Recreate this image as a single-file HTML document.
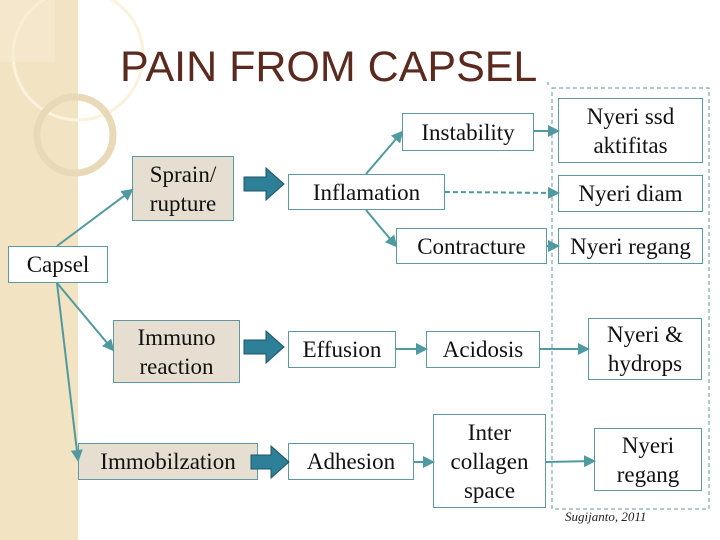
<!DOCTYPE html>
<html><head><meta charset="utf-8"><style>
body{margin:0;width:720px;height:540px;overflow:hidden;background:#fff;position:relative;font-family:"Liberation Serif","DejaVu Serif",serif}
.b{position:absolute;box-sizing:border-box;border:1.5px solid #5b9aa1;background:#fff;display:flex;align-items:center;justify-content:center;text-align:center;font-family:"Liberation Serif","DejaVu Serif",serif;font-size:23px;line-height:29px;color:#111;white-space:nowrap}
.g{background:#e5ded1}
</style></head><body>
<div style="position:absolute;left:0;top:0;width:78px;height:540px;background:#f2e3c2"></div>
<svg width="720" height="540" style="position:absolute;left:0;top:0">
<circle cx="78" cy="55" r="65" fill="none" stroke="#fbf2dc" stroke-width="3"/>
<circle cx="75" cy="135" r="38" fill="none" stroke="#e8dab9" stroke-width="7"/>
<rect x="0" y="0" width="55" height="62" fill="#f6ead0" opacity="0.6"/>
</svg>
<div style="position:absolute;left:120px;top:42px;font-family:'Liberation Sans',sans-serif;font-size:43px;color:#5a2a1f;line-height:50px">PAIN FROM CAPSEL</div>
<div class="b g" style="left:132px;top:156px;width:102px;height:65px">Sprain/<br>rupture</div>
<div class="b" style="left:288px;top:174px;width:157px;height:36px">Inflamation</div>
<div class="b" style="left:402px;top:113px;width:132px;height:38px">Instability</div>
<div class="b" style="left:396px;top:228px;width:151px;height:36px">Contracture</div>
<div class="b" style="left:558px;top:98px;width:145px;height:65px">Nyeri ssd<br>aktifitas</div>
<div class="b" style="left:558px;top:175px;width:145px;height:37px">Nyeri diam</div>
<div class="b" style="left:558px;top:228px;width:145px;height:36px">Nyeri regang</div>
<div class="b" style="left:8px;top:246px;width:100px;height:37px">Capsel</div>
<div class="b g" style="left:113px;top:320px;width:127px;height:63px">Immuno<br>reaction</div>
<div class="b" style="left:288px;top:331px;width:108px;height:37px">Effusion</div>
<div class="b" style="left:426px;top:331px;width:114px;height:37px">Acidosis</div>
<div class="b" style="left:588px;top:318px;width:114px;height:62px">Nyeri &amp;<br>hydrops</div>
<div class="b g" style="left:78px;top:443px;width:180px;height:37px">Immobilzation</div>
<div class="b" style="left:288px;top:443px;width:126px;height:37px">Adhesion</div>
<div class="b" style="left:433px;top:414px;width:113px;height:94px">Inter<br>collagen<br>space</div>
<div class="b" style="left:594px;top:428px;width:108px;height:63px">Nyeri<br>regang</div>
<div style="position:absolute;left:565px;top:509px;font-size:13px;font-style:italic;color:#222">Sugijanto, 2011</div>
<svg width="720" height="540" style="position:absolute;left:0;top:0;z-index:2">
<defs><marker id="a" markerWidth="6" markerHeight="6" refX="5" refY="3" orient="auto"><path d="M0,0 L6,3 L0,6z" fill="#4f9aa0"/></marker></defs>
<g stroke="#4f9aa0" stroke-width="2" fill="none">
<line x1="57" y1="246" x2="132" y2="190" marker-end="url(#a)"/>
<line x1="57" y1="283" x2="113" y2="350" marker-end="url(#a)"/>
<line x1="57" y1="283" x2="78" y2="460" marker-end="url(#a)"/>
<line x1="366" y1="174" x2="402" y2="132" marker-end="url(#a)"/>
<line x1="366" y1="210" x2="396" y2="246" marker-end="url(#a)"/>
<line x1="534" y1="131" x2="558" y2="131" marker-end="url(#a)"/>
<line x1="445" y1="192" x2="558" y2="193" stroke-dasharray="5,3" marker-end="url(#a)"/>
<line x1="547" y1="246" x2="558" y2="246" marker-end="url(#a)"/>
<line x1="396" y1="349" x2="426" y2="349" marker-end="url(#a)"/>
<line x1="540" y1="349" x2="588" y2="349" marker-end="url(#a)"/>
<line x1="414" y1="462" x2="433" y2="462" marker-end="url(#a)"/>
<line x1="546" y1="462" x2="594" y2="461" marker-end="url(#a)"/>
</g>
<rect x="552" y="88" width="157" height="421" fill="none" stroke="#5b9aa1" stroke-width="1" stroke-dasharray="4,3"/>
<line x1="548" y1="82" x2="548" y2="88" stroke="#5b9aa1" stroke-dasharray="3,3"/>
<g fill="#2e7f98" stroke="#1f5566" stroke-width="1">
<path d="M244,177 h22 v-9 l18,16 l-18,16 v-9 h-22z"/>
<path d="M244,340 h22 v-9 l18,16 l-18,16 v-9 h-22z"/>
<path d="M251,455 h20 v-9 l18,16 l-18,16 v-9 h-20z"/>
</g>
</svg>
</body></html>
